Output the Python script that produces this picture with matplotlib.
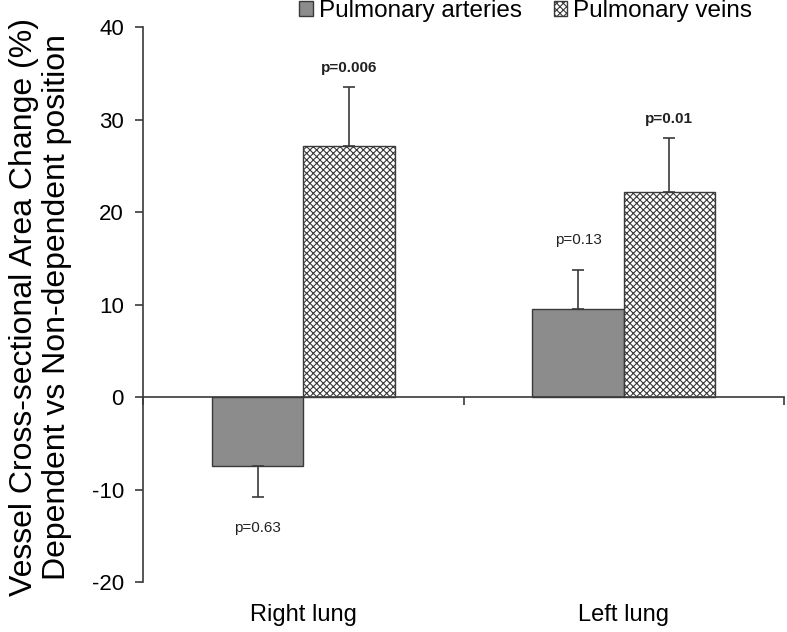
import matplotlib.pyplot as plt
import matplotlib.transforms as mtransforms
import numpy as np

plt.rcParams['font.family'] = ['Liberation Sans', 'DejaVu Sans']
plt.rcParams['axes.unicode_minus'] = False
plt.rcParams['hatch.linewidth'] = 0.8
plt.rcParams['hatch.color'] = '#505050'

# data
categories = ['Right lung', 'Left lung']
series = ['Pulmonary arteries', 'Pulmonary veins']
arteries = [-7.4, 9.5]
arteries_err = [3.4, 4.2]
veins = [27.1, 22.2]
veins_err = [6.4, 5.8]
arteries_p = ['p=0.63', 'p=0.13']
veins_p = ['p=0.006', 'p=0.01']

fig = plt.figure(figsize=(7.87, 6.32), dpi=100)
ax = fig.add_axes([0.182, 0.079, 0.814, 0.878])

x = np.arange(len(categories))
w = 0.285
edge = '#3a3a3a'

b1 = ax.bar(x - w/2, arteries, w, color='#8c8c8c', edgecolor=edge, linewidth=1.0,
            label=series[0], zorder=2)
b2 = ax.bar(x + w/2, veins, w, color='white', edgecolor=edge, linewidth=1.0,
            hatch='xxxxx', label=series[1], zorder=2)

# one-sided error bars
for xs, vals, errs in [(x - w/2, arteries, arteries_err), (x + w/2, veins, veins_err)]:
    for xi, v, e in zip(xs, vals, errs):
        yerr = [[0], [e]] if v >= 0 else [[e], [0]]
        ax.errorbar(xi, v, yerr=yerr, fmt='none', ecolor=edge, elinewidth=1.2,
                    capsize=4, capthick=1.2, zorder=3)

# p values
for xi, v, e, t in zip(x - w/2, arteries, arteries_err, arteries_p):
    top = v + e if v >= 0 else v - e
    off = 22 if v >= 0 else -22
    ax.annotate(t, (xi, top), xytext=(0, off), textcoords='offset points',
                ha='center', va='center', fontsize=11, color='#222222')
for xi, v, e, t in zip(x + w/2, veins, veins_err, veins_p):
    ax.annotate(t, (xi, v + e), xytext=(0, 14), textcoords='offset points',
                ha='center', va='center', fontsize=11, fontweight='bold', color='#222222')

ax.set_ylim(-20, 40)
ax.set_xlim(-0.5, 1.5)
ax.set_yticks(np.arange(-20, 41, 10))
ax.tick_params(axis='y', labelsize=16, length=6, width=1.2, color=edge, pad=8)

ax.spines['top'].set_visible(False)
ax.spines['right'].set_visible(False)
ax.spines['left'].set_color(edge)
ax.spines['left'].set_linewidth(1.2)
ax.spines['bottom'].set_position(('data', 0))
ax.spines['bottom'].set_color(edge)
ax.spines['bottom'].set_linewidth(1.2)
ax.set_xticks([-0.5, 0.5, 1.5])
ax.set_xticklabels([])
ax.tick_params(axis='x', direction='out', length=6, width=1.2, color=edge)

trans = mtransforms.blended_transform_factory(ax.transData, fig.transFigure)
for xi, c in zip(x, categories):
    ax.text(xi, 0.027, c, transform=trans, ha='center', va='center', fontsize=17)

ax.set_ylabel('Vessel Cross-sectional Area Change (%)\nDependent vs Non-dependent position',
              fontsize=23, linespacing=1.12)
ax.yaxis.set_label_coords(-0.111, 0.495)

fig.legend(handles=[b1, b2], labels=series, loc='center', bbox_to_anchor=(0.668, 0.982),
           ncol=2, frameon=False, fontsize=17.5, handlelength=0.55, handleheight=0.55,
           handletextpad=0.25, columnspacing=1.3, borderpad=0)

fig.savefig('out.png', dpi=100)
